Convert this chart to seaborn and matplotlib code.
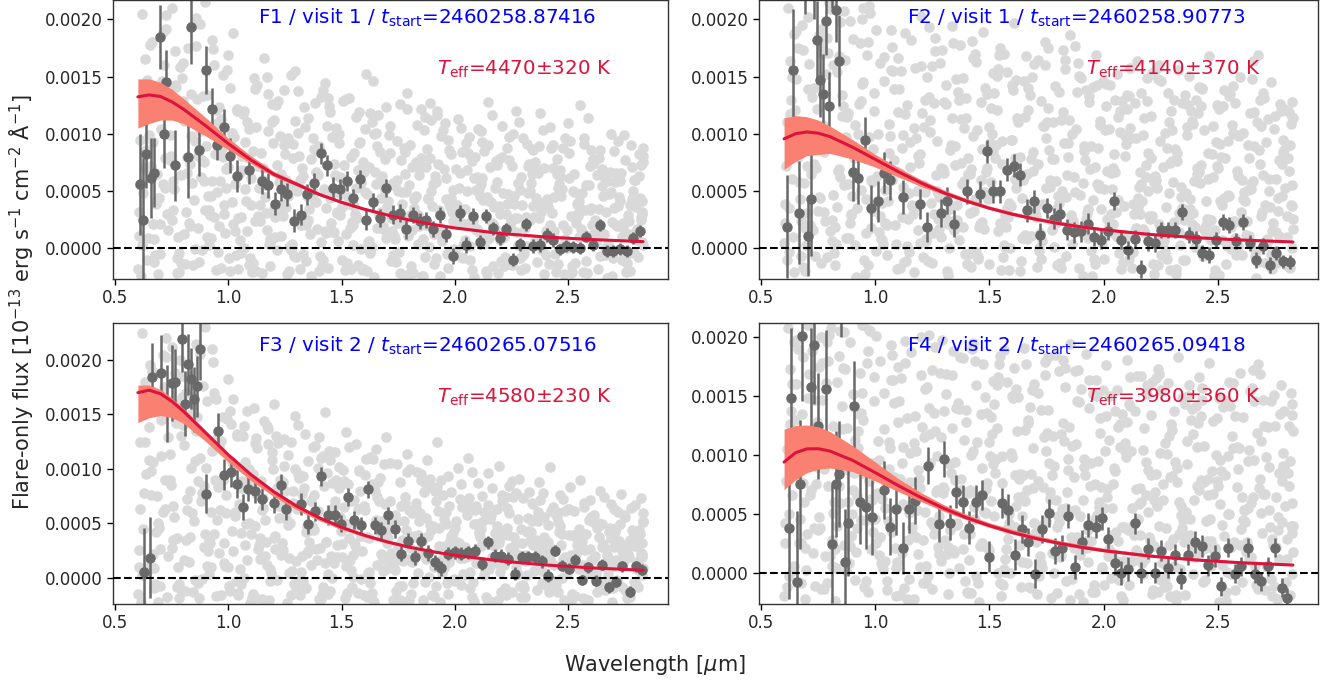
import numpy as np
import seaborn as sns
import matplotlib.pyplot as plt
from matplotlib.ticker import FormatStrFormatter

# fluxes below are in units of 1e-4 (x 10^-13 erg/s/cm2/A)
SCALE = 1e-4

# ---- model grid (wavelength, micron) ----
model_wl = [0.6, 0.65, 0.7, 0.75, 0.8, 0.9, 1.0, 1.1, 1.2, 1.3, 1.4, 1.5, 1.6, 1.7,
            1.8, 1.9, 2.0, 2.2, 2.4, 2.6, 2.83]

# ---- wavelengths of the unbinned spectrum pixels (grey cloud) ----
gray_wl = [
    0.600, 0.645, 0.690, 0.735, 0.780, 0.825, 0.870, 0.915, 0.960, 1.005, 1.050, 1.095, 1.140, 1.185, 1.230, 1.275, 1.320,
    1.365, 1.410, 1.455, 1.500, 1.545, 1.590, 1.635, 1.680, 1.725, 1.770, 1.815, 1.860, 1.905, 1.950, 1.995, 2.040, 2.085,
    2.130, 2.175, 2.220, 2.265, 2.310, 2.355, 2.400, 2.445, 2.490, 2.535, 2.580, 2.625, 2.670, 2.715, 2.760, 2.805,
    0.622, 0.667, 0.712, 0.757, 0.802, 0.847, 0.892, 0.937, 0.982, 1.027, 1.072, 1.117, 1.162, 1.207, 1.252, 1.297, 1.342,
    1.387, 1.432, 1.477, 1.522, 1.567, 1.612, 1.657, 1.702, 1.747, 1.792, 1.837, 1.882, 1.927, 1.972, 2.017, 2.062, 2.107,
    2.152, 2.197, 2.242, 2.287, 2.332, 2.377, 2.422, 2.467, 2.512, 2.557, 2.602, 2.647, 2.692, 2.737, 2.782, 2.827,
    0.611, 0.656, 0.701, 0.746, 0.791, 0.836, 0.881, 0.926, 0.971, 1.016, 1.061, 1.106, 1.151, 1.196, 1.241, 1.286, 1.331,
    1.376, 1.421, 1.466, 1.511, 1.556, 1.601, 1.646, 1.691, 1.736, 1.781, 1.826, 1.871, 1.916, 1.961, 2.006, 2.051, 2.096,
    2.141, 2.186, 2.231, 2.276, 2.321, 2.366, 2.411, 2.456, 2.501, 2.546, 2.591, 2.636, 2.681, 2.726, 2.771, 2.816,
    0.633, 0.678, 0.723, 0.768, 0.813, 0.858, 0.903, 0.948, 0.993, 1.038, 1.083, 1.128, 1.173, 1.218, 1.263, 1.308, 1.353,
    1.398, 1.443, 1.488, 1.533, 1.578, 1.623, 1.668, 1.713, 1.758, 1.803, 1.848, 1.893, 1.938, 1.983, 2.028, 2.073, 2.118,
    2.163, 2.208, 2.253, 2.298, 2.343, 2.388, 2.433, 2.478, 2.523, 2.568, 2.613, 2.658, 2.703, 2.748, 2.793, 2.828,
    0.617, 0.662, 0.707, 0.752, 0.797, 0.842, 0.887, 0.932, 0.977, 1.022, 1.067, 1.112, 1.157, 1.202, 1.247, 1.292, 1.337,
    1.382, 1.427, 1.472, 1.517, 1.562, 1.607, 1.652, 1.697, 1.742, 1.787, 1.832, 1.877, 1.922, 1.967, 2.012, 2.057, 2.102,
    2.147, 2.192, 2.237, 2.282, 2.327, 2.372, 2.417, 2.462, 2.507, 2.552, 2.597, 2.642, 2.687, 2.732, 2.777, 2.822,
    0.639, 0.684, 0.729, 0.774, 0.819, 0.864, 0.909, 0.954, 0.999, 1.044, 1.089, 1.134, 1.179, 1.224, 1.269, 1.314, 1.359,
    1.404, 1.449, 1.494, 1.539, 1.584, 1.629, 1.674, 1.719, 1.764, 1.809, 1.854, 1.899, 1.944, 1.989, 2.034, 2.079, 2.124,
    2.169, 2.214, 2.259, 2.304, 2.349, 2.394, 2.439, 2.484, 2.529, 2.574, 2.619, 2.664, 2.709, 2.754, 2.799, 2.830,
    0.606, 0.651, 0.696, 0.741, 0.786, 0.831, 0.876, 0.921, 0.966, 1.011, 1.056, 1.101, 1.146, 1.191, 1.236, 1.281, 1.326,
    1.371, 1.416, 1.461, 1.506, 1.551, 1.596, 1.641, 1.686, 1.731, 1.776, 1.821, 1.866, 1.911, 1.956, 2.001, 2.046, 2.091,
    2.136, 2.181, 2.226, 2.271, 2.316, 2.361, 2.406, 2.451, 2.496, 2.541, 2.586, 2.631, 2.676, 2.721, 2.766, 2.811,
    0.628, 0.673, 0.718, 0.763, 0.808, 0.853, 0.898, 0.943, 0.988, 1.033, 1.078, 1.123, 1.168, 1.213, 1.258, 1.303, 1.348,
    1.393, 1.438, 1.483, 1.528, 1.573, 1.618, 1.663, 1.708, 1.753, 1.798, 1.843, 1.888, 1.933, 1.978, 2.023, 2.068, 2.113,
    2.158, 2.203, 2.248, 2.293, 2.338, 2.383, 2.428, 2.473, 2.518, 2.563, 2.608, 2.653, 2.698, 2.743, 2.788, 2.825,
    0.614, 0.659, 0.704, 0.749, 0.794, 0.839, 0.884, 0.929, 0.974, 1.019, 1.064, 1.109, 1.154, 1.199, 1.244, 1.289, 1.334,
    1.379, 1.424, 1.469, 1.514, 1.559, 1.604, 1.649, 1.694, 1.739, 1.784, 1.829, 1.874, 1.919, 1.964, 2.009, 2.054, 2.099,
    2.144, 2.189, 2.234, 2.279, 2.324, 2.369, 2.414, 2.459, 2.504, 2.549, 2.594, 2.639, 2.684, 2.729, 2.774, 2.819,
    0.636, 0.681, 0.726, 0.771, 0.816, 0.861, 0.906, 0.951, 0.996, 1.041, 1.086, 1.131, 1.176, 1.221, 1.266, 1.311, 1.356,
    1.401, 1.446, 1.491, 1.536, 1.581, 1.626, 1.671, 1.716, 1.761, 1.806, 1.851, 1.896, 1.941, 1.986, 2.031, 2.076, 2.121,
    2.166, 2.211, 2.256, 2.301, 2.346, 2.391, 2.436, 2.481, 2.526, 2.571, 2.616, 2.661, 2.706, 2.751, 2.796, 2.829,
    0.603, 0.648, 0.693, 0.738, 0.783, 0.828, 0.873, 0.918, 0.963, 1.008, 1.053, 1.098, 1.143, 1.188, 1.233, 1.278, 1.323,
    1.368, 1.413, 1.458, 1.503, 1.548, 1.593, 1.638, 1.683, 1.728, 1.773, 1.818, 1.863, 1.908, 1.953, 1.998, 2.043, 2.088,
    2.133, 2.178, 2.223, 2.268, 2.313, 2.358, 2.403, 2.448, 2.493, 2.538, 2.583, 2.628, 2.673, 2.718, 2.763, 2.808,
    0.625, 0.670, 0.715, 0.760, 0.805, 0.850, 0.895, 0.940, 0.985, 1.030, 1.075, 1.120, 1.165, 1.210, 1.255, 1.300, 1.345,
    1.390, 1.435, 1.480, 1.525, 1.570, 1.615, 1.660, 1.705, 1.750, 1.795, 1.840, 1.885, 1.930, 1.975, 2.020, 2.065, 2.110,
    2.155, 2.200, 2.245, 2.290, 2.335, 2.380, 2.425, 2.470, 2.515, 2.560, 2.605, 2.650, 2.695, 2.740, 2.785, 2.826,
    0.609, 0.654, 0.699, 0.744, 0.789, 0.834, 0.879, 0.924, 0.969, 1.014, 1.059, 1.104, 1.149, 1.194, 1.239, 1.284, 1.329,
    1.374, 1.419, 1.464, 1.509, 1.554, 1.599, 1.644, 1.689, 1.734, 1.779, 1.824, 1.869, 1.914, 1.959, 2.004, 2.049, 2.094,
    2.139, 2.184, 2.229, 2.274, 2.319, 2.364, 2.409, 2.454, 2.499, 2.544, 2.589, 2.634, 2.679, 2.724, 2.769, 2.814,
    0.631, 0.676, 0.721, 0.766, 0.811, 0.856, 0.901, 0.946, 0.991, 1.036, 1.081, 1.126, 1.171, 1.216, 1.261, 1.306, 1.351,
    1.396, 1.441, 1.486, 1.531, 1.576, 1.621, 1.666, 1.711, 1.756, 1.801, 1.846, 1.891, 1.936, 1.981, 2.026, 2.071, 2.116,
    2.161, 2.206, 2.251, 2.296, 2.341, 2.386, 2.431, 2.476, 2.521, 2.566, 2.611, 2.656, 2.701, 2.746, 2.791, 2.824,
    0.620, 0.665, 0.710, 0.755, 0.800, 0.845, 0.890, 0.935, 0.980, 1.025, 1.070, 1.115, 1.160, 1.205, 1.250, 1.295, 1.340,
    1.385, 1.430, 1.475, 1.520, 1.565, 1.610, 1.655, 1.700, 1.745, 1.790, 1.835, 1.880, 1.925, 1.970, 2.015, 2.060, 2.105,
    2.150, 2.195, 2.240, 2.285, 2.330, 2.375, 2.420, 2.465, 2.510, 2.555, 2.600, 2.645, 2.690, 2.735, 2.780, 2.821,
    0.642, 0.687, 0.732, 0.777, 0.822, 0.867, 0.912, 0.957, 1.002, 1.047, 1.092, 1.137, 1.182, 1.227, 1.272, 1.317, 1.362,
    1.407, 1.452, 1.497, 1.542, 1.587, 1.632, 1.677, 1.722, 1.767, 1.812, 1.857, 1.902, 1.947, 1.992, 2.037, 2.082, 2.127,
    2.172, 2.217, 2.262, 2.307, 2.352, 2.397, 2.442, 2.487, 2.532, 2.577, 2.622, 2.667, 2.712, 2.757, 2.802, 2.831,
]

# ================= F1 =================
f1_wl = [0.608, 0.623, 0.636, 0.660, 0.673, 0.699, 0.714, 0.726, 0.765, 0.820, 0.834, 0.872, 0.899, 0.925, 0.951,
         0.981, 1.007, 1.037, 1.091, 1.146, 1.176, 1.205, 1.232, 1.260, 1.290, 1.320, 1.345, 1.376, 1.407, 1.434,
         1.462, 1.494, 1.522, 1.550, 1.580, 1.608, 1.640, 1.668, 1.696, 1.726, 1.756, 1.784, 1.816, 1.844, 1.872,
         1.902, 1.933, 1.960, 1.991, 2.021, 2.050, 2.079, 2.109, 2.137, 2.167, 2.197, 2.225, 2.255, 2.286, 2.315,
         2.345, 2.374, 2.404, 2.432, 2.462, 2.490, 2.522, 2.550, 2.580, 2.610, 2.641, 2.670, 2.699, 2.729, 2.757,
         2.786, 2.817]
f1_flux = [5.57, 2.42, 8.25, 6.15, 6.6, 18.5, 10.0, 14.5, 7.26, 8.0, 19.3, 8.6, 15.6, 12.2, 9.0,
           10.6, 8.1, 6.3, 6.8, 5.86, 5.5, 3.9, 5.13, 4.7, 2.4, 2.94, 4.7, 5.66, 8.3, 7.23,
           5.28, 5.13, 5.86, 4.4, 6.06, 2.5, 4.02, 2.65, 5.28, 2.94, 3.09, 1.63, 2.94, 2.36, 2.5,
           1.69, 2.86, 1.2, -0.7, 3.09, 0.26, 2.8, 0.52, 2.8, 1.72, 0.9, 1.63, -1.0, 0.32, 2.07,
           0.17, 0.26, 1.17, 0.7, -0.1, 0.17, 0.1, 0.03, 1.0, 0.26, 2.04, -0.26, -0.26, -0.06, -0.26,
           0.9, 1.49]
f1_err = [4.4, 5.5, 3.0, 3.5, 3.0, 2.8, 3.0, 2.8, 3.1, 3.6, 3.2, 2.3, 2.1, 1.8, 1.3,
          1.6, 1.5, 1.4, 1.2, 1.1, 1.1, 1.0, 1.0, 1.0, 1.0, 0.9, 0.9, 0.9, 0.9, 0.9,
          0.9, 0.9, 0.9, 0.8, 0.8, 0.9, 0.8, 0.8, 0.8, 0.8, 0.8, 0.8, 0.7, 0.7, 0.7,
          0.7, 0.7, 0.7, 0.7, 0.7, 0.7, 0.7, 0.6, 0.6, 0.6, 0.6, 0.6, 0.6, 0.6, 0.6,
          0.6, 0.6, 0.6, 0.6, 0.5, 0.5, 0.5, 0.5, 0.5, 0.5, 0.5, 0.5, 0.5, 0.5, 0.5,
          0.5, 0.5]
f1_model = [13.23, 13.4, 13.26, 12.8, 12.17, 10.69, 9.13, 7.7, 6.46, 5.6, 4.7, 4.0, 3.4, 2.9, 2.45, 2.08, 1.76,
            1.28, 0.975, 0.753, 0.57]
f1_hi = [14.8, 14.8, 14.5, 13.9, 13.1, 11.4, 9.6, 8.05, 6.72, 5.8, 4.88, 4.15, 3.55, 3.05, 2.6, 2.22, 1.9,
         1.44, 1.1, 0.85, 0.66]
f1_lo = [10.5, 10.9, 11.2, 11.2, 10.9, 9.8, 8.6, 7.4, 6.25, 5.45, 4.6, 3.9, 3.32, 2.83, 2.38, 2.02, 1.71,
         1.27, 0.96, 0.74, 0.56]
f1_gray = [
    -1.8, 0.9, -2.3, 1.6, -0.4, 2.2, -1.2, 0.3, 1.9, -2.0, 0.7, -0.9, 2.4, -1.6, 1.1, -0.2, 2.0, -2.4, 0.5, 1.4, -1.0,
    2.3, -1.9, 0.1, 1.7, -0.6, 2.5, -2.2, 0.8, -1.4, 1.3, -0.1, 2.1, -2.5, 0.4, 1.8, -0.8, 2.6, -1.7, 0.6, 1.5, -2.1,
    0.2, 2.2, -1.1, 1.0, -2.6, 1.9, -0.5, 0.7,
    4.8, 2.1, 5.6, 3.3, 1.2, 4.2, 5.9, 2.7, 3.8, 1.5, 5.2, 2.4, 4.5, 1.0, 3.6, 5.5, 2.0, 4.0, 1.3, 3.1, 5.8, 2.6, 4.7,
    1.8, 3.4, 5.0, 1.1, 2.9, 4.4, 1.6, 3.9, 5.3, 2.2, 1.4, 4.1, 3.0, 1.9, 5.1, 2.5, 3.7, 1.2, 4.6, 2.8, 1.7, 3.5, 5.4,
    2.3, 1.0, 4.3, 3.2,
    9.5, 7.2, 10.4, 8.1, 6.4, 9.8, 7.7, 5.9, 8.8, 10.1, 6.8, 8.5, 7.0, 9.2, 5.6, 7.9, 6.3, 8.7, 5.2, 7.4, 6.0, 8.3,
    4.9, 6.7, 7.8, 5.4, 6.5, 4.6, 7.1, 5.8, 4.3, 6.9, 5.0, 6.2, 4.5, 7.3, 3.9, 5.7, 4.8, 6.6, 3.6, 5.3, 6.1, 4.1, 5.5,
    3.4, 4.7, 5.9, 3.8, 4.4,
    16.5, 12.8, 19.2, 14.1, 11.5, 17.7, 13.4, 10.9, 15.6, 12.2, 11.0, 14.3, 10.2, 12.9, 9.6, 13.7, 11.4, 8.9, 12.4,
    10.0, 13.1, 9.2, 11.8, 8.4, 10.7, 12.6, 9.0, 7.9, 11.2, 9.8, 8.2, 10.5, 7.6, 9.3, 11.6, 8.0, 7.2, 9.6, 8.6, 10.3,
    7.0, 8.8, 6.5, 9.1, 7.5, 6.2, 8.5, 7.7, 6.0, 8.1,
    20.5, 18.0, 14.6, 21.0, 16.2, 19.5, 13.3, 17.4, 15.1, 18.8, 12.0, 14.9, 16.6, 11.2, 13.8, 15.5, 10.6, 12.7, 14.4,
    9.9, 13.0, 11.5, 15.2, 10.1, 12.3, 9.4, 13.6, 10.8, 8.7, 12.0, 9.5, 11.3, 8.3, 10.4, 12.8, 7.8, 9.7, 11.0, 7.4,
    8.9, 10.6, 6.8, 9.4, 12.5, 7.2, 8.6, 10.0, 6.6, 9.0, 7.3,
    -1.0, 6.5, 3.0, -2.2, 8.0, 1.8, 4.6, -0.3, 7.1, 2.6, -1.5, 5.3, 0.4, 3.5, -2.0, 6.0, 1.2, -0.7, 4.4, 2.9, -1.8,
    5.7, 0.0, 3.2, -1.1, 4.9, 1.6, -2.4, 3.7, 0.6, 5.1, -0.9, 2.4, 4.2, -1.6, 1.0, 3.9, -0.4, 2.7, -2.3, 4.5, 0.8,
    -1.3, 3.3, 1.5, -0.6, 2.0, -2.1, 3.6, 0.3,
    3.2, 12.4, -0.5, 7.7, 15.8, 1.9, 10.2, 4.6, -1.7, 8.9, 2.7, 6.1, -2.2, 11.0, 3.9, 0.4, 7.0, 9.6, -1.0, 4.8, 12.9,
    2.0, 6.7, -2.5, 5.4, 1.1, 8.8, 3.5, -0.8, 6.3, 10.9, 2.4, 0.7, 5.1, -2.0, 7.6, 3.0, 1.4, 9.1, -1.2, 4.3, 6.5, 0.0,
    2.8, 11.4, -1.8, 5.9, 3.7, 1.2, 8.2,
    13.6, 0.8, 5.3, 17.2, -1.4, 9.4, 3.3, 12.1, 6.9, -0.6, 4.1, 10.6, 1.6, 7.3, -2.3, 5.0, 2.3, 8.5, 13.1, 0.6, 4.5,
    -1.5, 7.1, 2.9, 9.9, -0.3, 5.5, 1.9, 7.9, -2.4, 3.6, 6.6, 0.2, 10.2, 4.0, -1.1, 2.5, 6.2, 8.7, -0.2, 3.1, 5.2,
    -2.1, 1.3, 7.4, 4.6, -0.9, 2.2, 6.0, 0.5,
    -2.4, 6.9, 11.8, 2.5, 14.9, 5.7, -0.2, 18.2, 8.0, 2.1, 11.7, -1.3, 6.0, 3.4, 9.0, -0.7, 12.3, 4.2, 1.5, 6.4, -1.9,
    3.0, 10.4, 5.6, 0.9, -1.2, 4.9, 7.5, 2.0, 11.6, -0.5, 3.8, 6.8, 1.7, 9.0, -2.2, 4.7, 0.3, 7.2, 2.6, -1.4, 5.6, 8.3,
    1.0, 3.3, -0.7, 6.7, 4.1, -2.0, 2.7,
    8.6, 3.9, 20.4, -0.9, 6.6, 13.0, 1.0, 4.9, 16.9, -1.8, 7.9, 2.8, 13.5, 5.8, 0.1, 8.1, 3.4, -2.0, 11.9, 6.2, 1.8,
    9.3, -0.4, 4.4, 2.6, 7.7, -1.6, 12.2, 5.0, 0.8, 3.2, 8.4, -1.9, 6.1, 2.1, 4.8, 10.0, -0.6, 3.7, 7.0, 1.5, -2.3,
    4.9, 9.6, 2.5, 0.0, 5.8, -1.1, 3.9, 7.5,
    1.1, 9.9, 4.4, 13.7, -2.1, 7.4, 19.6, 2.9, 5.9, 14.0, -0.4, 3.8, 8.3, 0.6, 6.5, 15.1, 2.2, 5.0, -1.6, 9.7, 3.6,
    0.3, 7.5, 14.6, 1.9, 5.7, -2.5, 4.3, 10.3, 1.2, 6.9, -0.2, 3.4, 8.0, 0.9, 5.3, -1.5, 12.0, 2.7, 4.4, -0.6, 7.8,
    1.6, 3.9, -2.2, 6.4, 0.4, 9.4, 2.9, -0.8,
    7.0, -1.2, 16.0, 5.2, 11.1, -0.1, 21.5, 8.2, 1.3, 5.6, 9.3, -2.0, 3.1, 12.5, 6.0, -0.8, 4.6, 1.7, 10.7, 3.2, -1.3,
    6.8, 0.5, 11.6, 4.1, 2.2, -2.3, 6.4, 0.1, 3.3, 8.6, 2.2, -1.0, 4.6, 7.1, 0.7, 2.3, -1.9, 5.7, 3.2, 8.8, 0.2, -1.6,
    4.8, 2.0, 6.9, -2.4, 1.8, 5.0, 3.0,
    5.5, 17.8, 2.1, 9.9, -1.3, 13.5, 6.2, 0.9, 11.3, 4.0, 8.1, -2.1, 6.0, 12.6, 2.8, 9.1, -0.5, 4.9, 13.8, 1.4, 7.3,
    3.7, -1.8, 10.0, 5.1, 0.8, 8.4, 2.7, 11.5, -0.9, 6.1, 3.3, 9.2, 1.6, -2.3, 5.8, 8.8, 2.6, 0.2, 6.9, 4.2, -1.4,
    10.9, 3.1, 1.1, 7.9, -0.3, 4.5, 2.4, 6.3,
    11.2, -0.6, 7.9, 14.3, 3.2, 20.1, 8.9, -1.9, 5.3, 12.0, 1.5, 7.2, 15.0, -0.2, 4.6, 10.1, 2.5, 6.4, -1.7, 9.2, 3.9,
    11.9, 0.6, 5.8, 8.3, -2.2, 2.9, 7.0, 12.7, 1.8, 4.4, -0.8, 8.0, 5.6, 2.2, 10.7, -1.5, 3.8, 6.5, 0.7, 9.0, 2.0,
    5.0, -2.1, 7.8, 1.2, 3.5, 9.9, -0.4, 4.1,
    0.3, 9.3, 18.9, 5.9, 12.9, -1.5, 7.5, 16.0, 3.0, 9.7, 0.0, 13.9, 5.5, 2.7, 8.2, 11.1, -1.1, 6.7, 3.5, 10.5, 1.2,
    5.3, -2.0, 8.9, 3.6, 6.0, 12.2, 0.4, 4.3, 7.4, -1.7, 2.6, 9.7, 5.2, 0.9, 3.7, 7.7, -0.9, 5.0, 11.8, 2.0, 6.2,
    -2.2, 3.4, 8.6, 1.4, 4.9, -1.0, 7.1, 2.5,
    14.7, 4.4, 11.7, 1.0, 17.5, 8.1, 3.3, 12.3, -0.9, 6.5, 10.4, 3.8, 0.8, 9.8, 5.4, -1.8, 7.8, 13.2, 2.2, 4.7, 8.0,
    -0.1, 11.0, 6.3, 1.5, 3.9, 7.1, -2.4, 5.6, 10.3, 2.4, 0.3, 6.1, 8.5, 3.6, -1.6, 4.6, 1.8, 7.5, 4.0, -0.5, 9.6,
    2.8, 5.5, 0.5, 3.2, 6.6, -1.3, 1.7, 8.8,
]

# ================= F2 =================
f2_wl = [0.615, 0.638, 0.664, 0.690, 0.705, 0.717, 0.730, 0.744, 0.759, 0.771, 0.785, 0.797, 0.810, 0.826, 0.839,
         0.900, 0.926, 0.955, 0.983, 1.010, 1.038, 1.066, 1.120, 1.197, 1.227, 1.286, 1.315, 1.344, 1.403, 1.459,
         1.488, 1.517, 1.547, 1.578, 1.607, 1.635, 1.664, 1.695, 1.723, 1.752, 1.781, 1.811, 1.840, 1.872, 1.901,
         1.930, 1.959, 1.989, 2.018, 2.047, 2.077, 2.106, 2.137, 2.165, 2.196, 2.225, 2.253, 2.284, 2.313, 2.343,
         2.373, 2.404, 2.433, 2.462, 2.492, 2.522, 2.551, 2.582, 2.611, 2.641, 2.670, 2.700, 2.729, 2.758, 2.788,
         2.817]
f2_flux = [1.87, 15.6, 3.1, 24.5, 1.05, 4.3, 24.0, 18.2, 14.7, 13.5, 19.9, 12.4, 25.0, 20.8, 16.4,
           6.67, 6.15, 9.5, 3.53, 4.1, 6.6, 5.95, 4.5, 3.9, 1.87, 3.1, 4.17, 2.16, 4.98, 4.78,
           8.48, 4.98, 4.98, 6.88, 7.23, 6.44, 3.32, 4.11, 1.17, 3.53, 2.6, 3.03, 1.63, 1.4, 1.49,
           2.16, 1.0, 0.76, 1.49, 4.11, 0.76, -0.12, 0.82, -1.8, 0.61, 0.47, 1.63, 1.63, 1.63, 3.15,
           1.2, 0.82, -0.4, -0.55, 0.76, 2.27, 2.07, 0.61, 2.27, 0.47, -1.05, 0.17, -1.43, -0.4, -1.14,
           -1.22]
f2_err = [4.5, 5.3, 4.5, 4.0, 3.5, 5.0, 4.0, 3.4, 3.2, 3.5, 3.0, 3.0, 4.0, 2.8, 4.0,
          2.5, 2.3, 2.0, 2.0, 1.8, 1.8, 1.7, 1.5, 1.3, 1.3, 1.2, 1.2, 1.2, 1.1, 1.1,
          1.0, 1.0, 1.0, 1.0, 1.0, 1.0, 1.0, 1.0, 1.0, 0.9, 0.9, 0.9, 0.9, 0.9, 0.9,
          0.9, 0.8, 0.8, 0.8, 0.8, 0.8, 0.8, 0.8, 0.8, 0.8, 0.8, 0.7, 0.7, 0.7, 0.7,
          0.7, 0.7, 0.7, 0.7, 0.7, 0.7, 0.7, 0.7, 0.7, 0.7, 0.7, 0.7, 0.7, 0.6, 0.6,
          0.6]
f2_model = [9.57, 10.01, 10.17, 10.06, 9.77, 8.84, 7.77, 6.7, 5.72, 4.85, 4.12, 3.5, 2.98, 2.55, 2.18, 1.88, 1.62,
            1.22, 0.939, 0.73, 0.556]
f2_hi = [11.4, 11.6, 11.5, 11.2, 10.7, 9.5, 8.2, 7.05, 6.0, 5.1, 4.35, 3.7, 3.18, 2.75, 2.38, 2.06, 1.78,
         1.36, 1.05, 0.83, 0.64]
f2_lo = [6.9, 7.6, 8.1, 8.2, 8.3, 7.8, 7.1, 6.25, 5.4, 4.7, 4.0, 3.4, 2.88, 2.45, 2.08, 1.78, 1.53,
         1.14, 0.87, 0.67, 0.51]
f2_gray = [
    0.5, -2.1, 1.8, -0.7, 2.4, -1.5, 0.9, -2.5, 1.3, -0.2, 2.0, -1.8, 0.2, 1.6, -1.1, 2.6, -2.3, 0.7, -0.5, 1.9, -1.4,
    2.2, 0.0, -2.0, 1.1, -0.9, 2.5, -1.7, 0.4, 1.4, -2.4, 0.9, 2.1, -1.2, -0.3, 1.7, -2.2, 0.6, 2.3, -1.0, 0.1, 1.5,
    -1.9, 2.0, -0.6, 1.2, -2.6, 0.8, -1.3, 1.0,
    3.5, 5.8, 2.0, 4.4, 1.5, 6.2, 3.0, 5.1, 1.8, 4.0, 6.0, 2.7, 3.8, 5.5, 1.3, 4.7, 2.4, 5.9, 3.3, 1.7, 4.9, 2.9, 6.1,
    1.2, 3.9, 5.3, 2.2, 4.5, 1.6, 3.1, 5.6, 2.6, 4.2, 1.1, 3.6, 5.0, 2.1, 4.8, 1.4, 3.4, 5.7, 2.5, 4.1, 1.9, 3.2, 5.2,
    2.8, 1.5, 4.6, 3.7,
    11.0, 8.6, 7.2, 10.5, 9.1, 6.8, 11.8, 8.0, 9.7, 7.5, 10.9, 6.6, 9.3, 8.2, 10.2, 7.0, 9.0, 11.3, 6.9, 8.7, 10.0,
    7.4, 9.5, 6.4, 8.4, 10.7, 7.8, 9.2, 6.2, 8.9, 7.1, 10.3, 6.7, 8.1, 9.6, 7.3, 6.0, 8.8, 7.6, 9.9, 6.5, 8.3, 7.0,
    9.4, 6.3, 7.9, 8.6, 6.1, 7.7, 9.0,
    15.0, 19.5, 13.2, 17.6, 16.0, 12.4, 18.3, 14.5, 12.0, 16.7, 13.9, 11.7, 15.8, 13.0, 17.2, 12.6, 14.8, 11.4, 16.3,
    13.5, 12.1, 15.4, 11.0, 14.0, 16.5, 12.3, 13.7, 11.2, 15.1, 12.8, 10.8, 14.3, 12.0, 10.5, 13.6, 11.6, 14.6, 10.3,
    12.7, 11.1, 13.9, 10.7, 12.4, 14.2, 10.1, 11.9, 13.1, 10.4, 12.2, 11.5,
    21.0, 17.5, 20.2, 18.6, 21.4, 16.8, 19.9, 17.9, 20.6, 16.2, 19.1, 15.5, 18.2, 20.3, 15.9, 17.3, 19.4, 14.9, 16.6,
    18.9, 15.3, 17.0, 19.7, 14.6, 16.1, 18.0, 14.2, 15.7, 17.7, 13.8, 16.9, 14.4, 15.2, 13.4, 16.4, 12.9, 14.8, 13.6,
    15.6, 12.5, 14.1, 16.8, 12.2, 13.3, 15.0, 11.8, 13.0, 14.5, 12.0, 10.9,
    1.0, -1.6, 7.4, 3.2, -0.4, 5.5, 0.3, -2.2, 4.0, 2.2, 6.8, -1.1, 3.7, 0.8, 5.0, -2.0, 2.5, 7.9, -0.8, 4.3, 1.5,
    -1.9, 6.3, 3.0, 0.0, 5.4, -1.3, 2.0, 4.7, -0.2, 3.4, 6.6, 1.2, -1.7, 4.1, 2.8, 0.5, 5.8, -1.0, 3.1, 1.7, -2.4,
    4.4, 0.9, 2.3, -0.7, 3.8, 1.4, -1.5, 2.6,
    2.2, 14.8, 0.3, 9.2, 18.4, 3.6, 11.5, 6.2, -1.5, 10.0, 4.1, 16.6, -0.3, 7.5, 13.2, 1.7, 8.6, 17.8, 3.1, 6.0, 12.3,
    -1.9, 9.5, 4.4, 15.0, 0.6, 7.8, 11.9, 2.4, 5.7, 14.1, -0.9, 8.2, 3.7, 12.7, 1.3, 6.3, 10.1, -2.2, 4.8, 13.0, 2.0,
    7.2, 0.2, 9.9, 5.1, -1.2, 11.3, 3.3, 6.8,
    11.7, -0.7, 6.5, 19.2, 2.5, 13.4, 4.6, 20.0, 8.7, 0.4, 15.5, 5.4, -2.1, 10.6, 3.0, 12.8, 7.3, -0.5, 17.0, 4.7, 9.0,
    1.9, 14.7, 6.5, -1.6, 11.0, 3.5, 8.0, 16.2, 0.9, 5.5, 10.4, -0.4, 13.3, 6.7, 2.6, 9.4, -1.9, 4.5, 12.0, 7.3, 0.7,
    3.8, 10.8, -0.6, 5.9, 13.6, 2.2, 8.4, 0.0,
    -1.0, 8.0, 13.9, 3.3, 17.1, 6.9, 0.9, 12.6, 21.2, 2.8, 9.8, -1.7, 7.1, 15.9, 4.0, 1.0, 11.4, 5.6, 18.1, 2.3, 8.5,
    -0.8, 13.8, 6.0, 3.9, 10.7, 0.1, 16.5, 4.9, 7.7, -1.4, 12.4, 3.2, 9.1, 1.8, 14.9, 5.3, -0.9, 8.3, 2.9, 11.8, 6.1,
    -2.3, 4.6, 9.8, 1.1, 7.4, 3.6, 12.6, -1.7,
    6.1, 17.3, 1.6, 10.8, 4.7, 20.7, 7.9, -1.0, 13.6, 5.1, 2.0, 18.8, 9.6, 0.6, 6.4, 14.3, 3.8, -1.4, 10.3, 7.0, 15.7,
    2.7, 5.9, 12.1, -0.2, 8.6, 4.0, 18.6, 1.4, 6.9, 11.1, 3.0, -1.8, 9.6, 5.6, 15.3, 0.8, 7.6, 3.5, 10.9, -0.7, 6.2,
    13.8, 2.4, 4.9, 8.9, -1.3, 11.6, 5.3, 1.7,
    3.9, 12.1, -2.0, 7.0, 15.2, 0.4, 9.7, 3.5, 16.9, 6.3, -0.6, 11.9, 2.6, 8.1, 19.3, 4.5, 0.0, 13.0, 6.5, 2.1, 9.2,
    17.5, 3.7, -1.1, 7.8, 12.9, 1.6, 5.0, 10.0, -2.4, 4.2, 14.6, 7.0, 0.9, 3.0, 11.4, 5.8, -0.3, 8.7, 13.4, 1.9, 4.1,
    9.3, -1.4, 6.8, 2.4, 11.0, 0.5, 4.4, 7.9,
    16.4, 4.3, 10.1, -1.3, 20.9, 8.6, 2.9, 14.4, 5.8, 0.7, 17.6, 9.9, 3.0, -0.8, 12.7, 6.6, 1.6, 10.5, 4.3, 14.0, 7.9,
    0.1, 5.3, 16.8, 2.7, 9.6, -1.5, 6.4, 13.7, 3.4, 8.8, 1.3, 11.5, -0.9, 5.4, 2.8, 16.0, 7.5, 0.3, 4.3, 12.4, 2.5,
    8.0, -0.1, 6.0, 14.8, 3.2, -1.8, 9.5, 5.5,
    7.2, 19.0, 3.1, 12.2, -0.8, 15.4, 5.6, 10.0, 18.0, 1.4, 8.3, 13.9, 4.8, 0.5, 11.2, 16.2, 3.4, 7.5, -1.6, 12.8, 5.8,
    9.4, 14.3, 0.9, 6.8, 3.9, 11.0, 17.3, 2.0, 8.5, -0.9, 5.2, 13.0, 9.8, 1.5, 6.2, 15.7, 3.6, -1.8, 10.6, 7.0, 2.6,
    12.5, 4.7, 0.2, 9.0, 16.9, 5.0, 1.1, 11.9,
    13.0, 2.4, 9.6, 17.0, 0.6, 11.6, 6.6, 21.0, 3.3, 14.6, 7.7, -1.2, 10.5, 4.9, 18.4, 2.7, 8.9, 13.1, -0.3, 6.7, 15.1,
    3.5, 11.4, 0.8, 7.4, 17.5, 4.6, 9.2, -1.7, 13.3, 5.3, 1.9, 10.2, 15.8, 3.0, 7.9, -0.6, 12.0, 5.4, 2.1, 14.0, 8.2,
    0.7, 10.1, 4.3, 16.4, 6.4, -1.0, 8.6, 12.8,
    -0.3, 11.0, 16.1, 4.5, 9.1, 19.8, 2.2, 12.9, 6.0, 0.8, 15.6, 8.8, 3.7, 11.8, -1.3, 6.9, 17.9, 1.9, 9.8, 4.9, 13.6,
    0.3, 7.9, 11.5, 3.2, 16.0, 5.9, -0.7, 10.4, 2.6, 14.3, 6.8, 1.0, 12.2, 4.4, 8.3, -1.5, 11.0, 3.1, 15.1, 6.7, 0.9,
    9.1, 13.5, 2.3, 5.6, 10.7, -0.5, 7.4, 3.8,
    18.7, 5.7, 14.0, 8.4, 1.9, 16.5, 10.8, 4.3, 19.1, 7.2, 0.4, 12.5, 5.0, 15.0, 9.4, 2.1, 13.7, 6.5, -0.9, 10.6, 16.9,
    4.0, 8.0, 13.4, 1.3, 6.0, 11.2, 2.9, 14.9, 8.9, 0.5, 5.2, 12.9, 3.9, 9.9, -1.4, 7.1, 13.0, 2.5, 5.9, 10.3, 1.6,
    7.9, 12.7, 4.1, -0.2, 9.3, 6.1, 2.8, 11.4,
]

# ================= F3 =================
f3_wl = [0.626, 0.652, 0.664, 0.704, 0.728, 0.751, 0.765, 0.793, 0.809, 0.820, 0.834, 0.846, 0.861, 0.875, 0.902,
         0.953, 0.981, 1.010, 1.036, 1.063, 1.088, 1.117, 1.146, 1.200, 1.230, 1.256, 1.322, 1.352, 1.384, 1.410,
         1.440, 1.468, 1.497, 1.527, 1.556, 1.585, 1.617, 1.645, 1.675, 1.705, 1.734, 1.763, 1.792, 1.822, 1.851,
         1.880, 1.910, 1.939, 1.969, 1.998, 2.028, 2.057, 2.087, 2.117, 2.146, 2.175, 2.205, 2.234, 2.264, 2.294,
         2.323, 2.353, 2.382, 2.412, 2.441, 2.471, 2.501, 2.530, 2.561, 2.589, 2.620, 2.648, 2.680, 2.709, 2.739,
         2.773, 2.800, 2.827]
f3_flux = [0.55, 1.84, 18.4, 18.8, 16.0, 17.9, 18.0, 21.9, 16.0, 19.6, 18.3, 16.4, 17.6, 21.0, 7.7,
           13.5, 9.46, 9.7, 8.6, 6.45, 8.14, 8.0, 7.2, 6.9, 8.5, 6.3, 6.79, 4.95, 6.08, 9.3,
           5.78, 5.78, 4.95, 7.4, 5.31, 4.8, 8.11, 4.8, 4.33, 5.71, 4.48, 2.18, 3.41, 1.87, 3.41,
           2.27, 1.41, 0.86, 2.18, 2.33, 2.18, 2.33, 2.49, 1.26, 3.26, 2.03, 2.03, 1.72, 0.34, 1.87,
           1.87, 1.87, 1.5, 0.18, 2.49, 1.1, 0.8, 1.66, -0.22, 0.95, -0.28, 1.17, -0.89, -0.37, 1.04,
           -1.29, 1.04, 0.74]
f3_err = [4.0, 3.7, 3.2, 3.5, 3.5, 3.5, 3.0, 3.0, 3.0, 2.8, 2.8, 3.0, 2.8, 2.8, 1.8,
          1.6, 1.4, 1.4, 1.3, 1.2, 1.1, 1.1, 1.0, 1.0, 1.0, 1.0, 1.0, 0.9, 0.9, 0.9,
          0.9, 0.9, 0.8, 0.8, 0.8, 0.8, 0.8, 0.8, 0.8, 0.8, 0.8, 0.7, 0.7, 0.7, 0.7,
          0.7, 0.7, 0.7, 0.6, 0.6, 0.6, 0.6, 0.6, 0.6, 0.6, 0.6, 0.6, 0.6, 0.6, 0.6,
          0.6, 0.6, 0.6, 0.6, 0.5, 0.5, 0.5, 0.5, 0.5, 0.5, 0.5, 0.5, 0.5, 0.5, 0.5,
          0.5, 0.5, 0.5]
f3_model = [17.0, 17.23, 16.9, 16.2, 15.31, 13.29, 11.27, 9.45, 7.89, 6.58, 5.5, 4.62, 3.89, 3.29, 2.79, 2.39, 2.05,
            1.53, 1.16, 0.896, 0.677]
f3_hi = [17.7, 17.7, 17.3, 16.5, 15.6, 13.5, 11.4, 9.6, 8.05, 6.75, 5.65, 4.76, 4.02, 3.4, 2.9, 2.48, 2.13,
         1.6, 1.22, 0.95, 0.72]
f3_lo = [14.25, 14.7, 14.9, 14.7, 14.2, 12.5, 10.6, 8.9, 7.45, 6.25, 5.25, 4.42, 3.73, 3.16, 2.69, 2.3, 1.98,
         1.48, 1.12, 0.86, 0.65]
f3_gray = [
    -1.5, 1.0, -2.2, 2.0, -0.6, 1.4, -1.9, 0.3, 2.3, -1.2, 0.8, -2.3, 1.7, -0.3, 2.1, -1.6, 0.5, 1.2, -2.0, 0.0, 1.9,
    -0.9, 2.4, -1.4, 0.6, -2.1, 1.5, -0.5, 2.2, -1.7, 0.9, -0.1, 1.8, -2.2, 0.2, 1.3, -1.0, 2.0, -1.8, 0.7, 1.6, -0.7,
    -2.3, 1.1, 0.4, -1.3, 2.1, -0.2, -1.9, 0.8,
    4.5, 2.2, 6.0, 3.5, 1.6, 5.2, 2.8, 4.0, 1.3, 5.7, 3.0, 4.7, 2.0, 3.8, 5.4, 1.5, 4.2, 2.6, 3.3, 1.9, 4.9, 2.4, 3.7,
    1.2, 4.4, 2.9, 1.7, 3.9, 2.3, 4.6, 1.4, 3.2, 2.0, 4.1, 1.1, 3.6, 2.7, 1.8, 3.4, 2.5, 1.3, 3.0, 2.1, 3.8, 1.6, 2.8,
    1.0, 2.4, 3.1, 1.9,
    12.5, 9.8, 11.2, 8.5, 13.0, 10.1, 7.8, 11.6, 9.0, 10.6, 8.2, 9.5, 7.3, 10.0, 8.8, 6.9, 9.3, 7.6, 8.4, 6.5, 8.9,
    7.1, 6.2, 8.0, 6.8, 5.8, 7.4, 6.4, 5.5, 7.0, 6.0, 5.2, 6.6, 4.9, 5.7, 6.3, 4.6, 5.4, 4.3, 6.0, 4.8, 5.1, 3.9, 4.5,
    5.3, 3.7, 4.2, 4.9, 3.5, 4.0,
    18.0, 15.5, 20.3, 14.2, 17.0, 13.5, 16.2, 12.8, 14.6, 13.0, 15.3, 11.9, 13.7, 12.4, 11.3, 14.0, 10.7, 12.9, 11.6,
    10.2, 12.0, 9.8, 11.1, 9.2, 10.5, 8.8, 10.0, 9.5, 8.3, 9.0, 7.9, 8.6, 9.7, 7.5, 8.2, 7.0, 8.9, 7.3, 6.8, 7.8, 6.5,
    7.2, 6.1, 6.9, 5.8, 7.4, 6.3, 5.6, 6.7, 5.9,
    22.5, 19.0, 16.8, 21.2, 18.5, 15.9, 17.6, 19.8, 14.8, 16.4, 13.9, 15.6, 14.4, 16.0, 12.7, 14.9, 13.2, 12.1, 15.2,
    11.5, 13.4, 12.3, 10.9, 11.8, 12.9, 10.4, 11.4, 9.7, 10.8, 12.5, 9.3, 10.1, 11.0, 8.7, 9.6, 10.3, 8.4, 9.1, 7.9,
    8.8, 10.2, 7.6, 8.3, 9.0, 7.1, 8.0, 6.8, 7.7, 6.4, 7.3,
    0.5, 7.5, -1.8, 3.6, 6.2, -0.5, 2.4, 8.3, 1.0, -1.4, 5.0, 3.0, -2.1, 6.6, 1.8, -0.2, 4.4, 2.7, -1.2, 5.6, 0.7,
    3.8, -1.9, 2.2, 4.8, -0.8, 1.4, 3.4, -1.6, 0.4, 4.1, 2.0, -0.4, 3.1, -2.2, 1.2, 2.9, -1.0, 0.6, 3.7, -0.3, 1.9,
    -1.7, 2.5, 0.1, -1.1, 1.6, 2.8, -0.6, 0.9,
    2.5, 13.8, -0.8, 9.0, 20.0, 3.7, 11.0, 6.0, -1.6, 14.1, 4.1, 8.4, -2.0, 11.5, 3.2, 0.6, 7.7, 12.0, -0.9, 5.6, 9.9,
    2.1, 6.6, -2.2, 10.4, 1.3, 5.2, 3.8, -0.4, 8.0, 2.9, 4.6, 0.2, 6.6, -1.8, 3.5, 7.4, 1.0, 4.2, -1.1, 2.4, 6.0, 0.4,
    3.7, -2.1, 5.0, 1.8, -0.6, 3.0, 4.4,
    15.1, 0.9, 6.3, 18.8, -1.2, 10.7, 4.0, 16.4, 7.6, -0.3, 4.9, 12.8, 1.2, 8.2, -2.3, 6.3, 2.3, 10.1, 0.3, 5.0, 8.6,
    -1.4, 3.6, 7.0, 1.6, -0.8, 6.2, 2.5, 4.8, -2.2, 3.4, 7.2, 0.5, 2.9, 5.8, -1.3, 1.9, 4.5, 6.9, -0.5, 2.6, 4.0, -2.0,
    1.2, 5.3, 3.1, -1.0, 2.0, 4.3, 0.2,
    -2.2, 7.6, 14.5, 2.7, 16.6, 5.9, -0.1, 21.0, 9.0, 2.4, 13.0, -1.5, 6.4, 3.6, 10.3, -0.6, 8.2, 4.4, 1.3, 7.0, -1.9,
    3.0, 9.4, 5.3, 0.8, -1.2, 4.4, 6.9, 1.7, 8.3, -0.5, 3.3, 5.8, 1.5, 6.7, -2.1, 3.9, 0.3, 5.5, 2.4, -1.3, 4.2, 6.3,
    0.8, 2.6, -0.9, 4.6, 3.2, -1.8, 2.3,
    9.5, 4.2, 22.0, -0.9, 7.2, 14.8, 1.1, 5.3, 18.3, -1.6, 8.9, 2.6, 12.3, 5.5, 0.4, 9.2, 3.3, -2.0, 10.8, 5.4, 1.6,
    8.0, -0.5, 4.0, 2.3, 6.6, -1.5, 9.0, 4.4, 0.6, 2.8, 6.5, -1.8, 5.1, 1.9, 4.0, 7.4, -0.7, 3.0, 5.6, 1.2, -2.1, 3.8,
    6.5, 2.0, -0.3, 4.2, -1.1, 2.9, 5.1,
    1.0, 10.8, 4.6, 15.6, -1.9, 8.0, 20.6, 3.2, 6.2, 15.3, -0.6, 4.0, 8.9, 0.4, 6.7, 12.5, 2.0, 4.7, -1.5, 8.7, 3.1,
    0.1, 6.4, 10.9, 1.7, 4.6, -2.2, 3.7, 7.9, 1.0, 5.4, -0.3, 2.8, 6.2, 0.7, 4.1, -1.6, 7.8, 2.1, 3.5, -0.7, 5.6, 1.2,
    3.0, -2.1, 4.6, 0.2, 6.0, 2.2, -0.9,
    7.8, -1.0, 17.5, 5.6, 12.2, -0.2, 23.0, 9.0, 1.1, 6.0, 10.6, -1.9, 3.3, 13.0, 6.1, -0.9, 4.7, 1.6, 9.6, 3.0, -1.4,
    6.3, 0.4, 8.8, 3.6, 2.0, -2.1, 5.2, 0.1, 2.9, 6.6, 1.8, -1.0, 3.7, 5.4, 0.5, 2.0, -1.8, 4.2, 2.6, 6.1, 0.0, -1.5,
    3.4, 1.6, 4.9, -2.2, 1.3, 3.6, 2.2,
    6.3, 19.5, 2.6, 11.4, -1.1, 15.0, 7.0, 1.0, 12.6, 4.3, 8.9, -1.9, 6.2, 10.8, 2.5, 8.0, -0.4, 4.6, 11.2, 1.3, 6.5,
    3.2, -1.6, 8.4, 4.3, 0.7, 6.9, 2.4, 8.7, -0.8, 4.9, 2.9, 6.8, 1.3, -2.0, 4.7, 6.4, 2.2, 0.2, 5.2, 3.3, -1.3, 6.3,
    2.5, 0.9, 4.8, -0.3, 3.4, 1.9, 4.1,
    12.5, -0.6, 9.0, 16.0, 3.5, 21.5, 10.1, -1.7, 5.9, 13.2, 1.6, 7.6, 13.9, -0.2, 4.8, 9.5, 2.4, 6.1, -1.5, 8.2, 3.6,
    9.9, 0.5, 5.1, 7.0, -2.1, 2.7, 5.9, 9.1, 1.6, 3.8, -0.7, 6.3, 4.5, 1.9, 7.6, -1.3, 3.2, 5.2, 0.6, 6.0, 1.7, 3.9,
    -1.9, 5.1, 1.0, 2.8, 5.8, -0.4, 3.2,
    0.2, 10.6, 20.5, 6.6, 14.0, -1.3, 8.4, 17.0, 3.2, 10.2, 0.0, 12.4, 5.3, 2.6, 8.0, 10.0, -1.0, 6.0, 3.3, 9.0, 1.1,
    4.8, -1.8, 7.4, 3.2, 5.2, 9.7, 0.4, 3.8, 6.1, -1.5, 2.3, 7.3, 4.2, 0.8, 3.2, 5.9, -0.8, 4.0, 7.1, 1.7, 4.7, -1.9,
    2.8, 5.6, 1.2, 3.6, -0.9, 4.4, 2.0,
    16.0, 5.0, 12.9, 1.0, 18.5, 8.9, 3.5, 12.0, -0.8, 6.8, 10.0, 3.6, 0.8, 9.0, 5.0, -1.6, 7.0, 11.0, 2.0, 4.3, 7.0,
    -0.1, 8.6, 5.2, 1.3, 3.5, 5.9, -2.1, 4.7, 7.6, 2.1, 0.3, 4.9, 6.0, 2.9, -1.4, 3.7, 1.5, 5.4, 3.1, -0.5, 6.1, 2.2,
    4.0, 0.4, 2.6, 4.6, -1.2, 1.4, 5.2,
]

# ================= F4 =================
f4_wl = [0.621, 0.632, 0.657, 0.669, 0.680, 0.720, 0.731, 0.749, 0.785, 0.811, 0.826, 0.840, 0.850, 0.865, 0.880,
         0.906, 0.931, 0.957, 0.985, 1.037, 1.065, 1.091, 1.120, 1.149, 1.174, 1.232, 1.280, 1.299, 1.327, 1.353,
         1.383, 1.410, 1.439, 1.468, 1.498, 1.554, 1.583, 1.613, 1.642, 1.671, 1.701, 1.730, 1.759, 1.789, 1.818,
         1.845, 1.877, 1.906, 1.933, 1.965, 1.994, 2.021, 2.050, 2.078, 2.109, 2.137, 2.166, 2.195, 2.225, 2.254,
         2.283, 2.313, 2.340, 2.372, 2.399, 2.430, 2.459, 2.487, 2.516, 2.546, 2.575, 2.604, 2.634, 2.663, 2.692,
         2.722, 2.751, 2.780, 2.805]
f4_flux = [3.78, 14.8, -0.77, 7.5, 20.1, 15.8, 19.3, 12.5, 15.6, 2.48, 7.5, 8.4, 24.0, 0.94, 4.27,
           14.2, 5.97, 5.55, 4.7, 7.03, 3.93, 5.4, 2.13, 5.4, 6.12, 9.1, 4.18, 9.67, 4.27, 6.88,
           6.03, 3.84, 6.03, 6.6, 1.37, 5.92, 5.35, 1.54, 3.7, 2.62, -0.06, 3.7, 5.06, 1.85, 2.13,
           4.84, 0.51, 2.62, 4.04, 3.93, 4.61, 2.9, 0.8, 0.0, 0.34, 4.21, 0.0, 2.05, 0.0, 1.88,
           0.43, 1.54, -0.51, 1.54, 2.62, 2.28, 0.63, 1.42, -1.14, 2.13, -0.06, 0.57, 2.13, -0.06, -0.71,
           0.57, 2.13, -1.28, -2.13]
f4_err = [6.0, 6.0, 6.0, 5.5, 5.5, 5.0, 5.0, 4.5, 5.0, 5.0, 4.5, 4.5, 4.0, 4.5, 4.5,
          3.8, 3.5, 3.5, 3.2, 2.5, 2.4, 2.2, 2.2, 2.0, 2.0, 1.6, 1.6, 1.5, 1.5, 1.4,
          1.4, 1.4, 1.4, 1.3, 1.3, 1.3, 1.3, 1.3, 1.2, 1.2, 1.2, 1.2, 1.2, 1.1, 1.1,
          1.0, 1.0, 1.0, 1.0, 1.0, 1.0, 1.0, 1.0, 1.0, 1.0, 0.9, 0.9, 0.9, 0.9, 0.9,
          0.9, 0.9, 0.9, 0.9, 0.9, 0.9, 0.9, 0.9, 0.8, 0.8, 0.8, 0.8, 0.8, 0.8, 0.8,
          0.8, 0.8, 0.8, 0.8]
f4_model = [9.4, 10.19, 10.52, 10.53, 10.34, 9.55, 8.5, 7.41, 6.39, 5.47, 4.67, 4.0, 3.42, 2.93, 2.52, 2.18, 1.88,
            1.43, 1.1, 0.858, 0.656]
f4_hi = [12.2, 12.5, 12.55, 12.4, 12.0, 10.8, 9.4, 8.0, 6.8, 5.78, 4.95, 4.25, 3.68, 3.18, 2.76, 2.4, 2.09,
         1.6, 1.24, 0.98, 0.76]
f4_lo = [7.06, 7.9, 8.5, 8.8, 8.9, 8.6, 7.8, 6.9, 6.05, 5.22, 4.5, 3.85, 3.3, 2.82, 2.41, 2.07, 1.78,
         1.34, 1.02, 0.79, 0.6]
f4_gray = [
    -2.0, 0.6, 2.1, -1.1, 1.4, -2.4, 0.2, 1.8, -0.7, 2.5, -1.5, 0.9, -2.2, 1.6, -0.3, 2.2, -1.8, 0.4, 1.1, -2.5, 1.9,
    -0.9, 0.0, 2.4, -1.3, 0.8, -2.1, 1.5, -0.5, 2.0, -1.6, 0.3, 1.7, -2.3, 1.0, -0.1, 2.3, -1.2, 0.6, -1.9, 1.3, -0.6,
    2.1, -2.4, 0.1, 1.8, -1.0, 0.5, -2.2, 1.2,
    5.0, 2.5, 6.6, 3.8, 1.4, 5.9, 3.1, 4.5, 2.0, 6.3, 3.5, 1.7, 5.3, 2.8, 4.1, 6.8, 1.9, 3.3, 5.6, 2.3, 4.8, 1.2, 3.9,
    6.1, 2.6, 4.4, 1.5, 5.5, 3.0, 2.1, 4.9, 6.4, 2.7, 3.6, 1.6, 5.2, 4.0, 2.4, 6.0, 3.2, 1.8, 4.6, 5.8, 2.2, 3.7, 1.3,
    5.1, 2.9, 4.3, 3.4,
    10.5, 8.2, 11.4, 9.0, 7.4, 10.8, 8.7, 12.0, 7.8, 9.6, 11.1, 8.0, 10.2, 7.2, 9.3, 11.5, 8.5, 7.0, 10.0, 8.9, 11.8,
    7.6, 9.8, 8.3, 10.6, 7.3, 9.1, 11.2, 8.1, 9.7, 7.5, 10.3, 8.6, 11.0, 7.1, 9.4, 8.4, 10.1, 7.7, 9.2, 10.7, 8.0, 7.4,
    9.9, 8.8, 10.4, 7.2, 9.0, 8.5, 9.5,
    16.0, 13.5, 18.8, 14.7, 12.5, 17.4, 15.2, 13.0, 16.6, 12.2, 14.4, 17.8, 13.3, 15.6, 12.0, 16.9, 14.0, 12.8, 15.9,
    13.6, 12.3, 16.2, 14.9, 12.7, 15.3, 13.8, 17.1, 12.4, 14.5, 16.4, 13.1, 15.0, 12.6, 14.2, 16.7, 13.4, 15.5, 12.1,
    14.8, 13.9, 15.7, 12.9, 14.1, 16.1, 13.2, 14.6, 12.5, 15.1, 13.7, 14.3,
    20.8, 19.0, 21.0, 17.5, 20.2, 18.4, 19.6, 17.0, 20.5, 18.0, 19.3, 16.5, 18.7, 20.0, 17.2, 19.8, 16.8, 18.2, 19.5,
    17.7, 16.3, 18.9, 17.4, 19.1, 16.0, 17.9, 18.5, 15.8, 17.1, 18.6, 16.4, 17.6, 15.5, 18.1, 16.7, 15.2, 17.3, 16.1,
    18.3, 15.0, 16.6, 17.8, 14.8, 16.2, 17.0, 15.4, 16.9, 14.6, 15.9, 15.3,
    0.2, 7.6, 3.8, -1.4, 6.0, 2.4, -0.6, 8.4, 4.6, 1.0, -2.0, 5.7, 3.0, -0.9, 7.0, 1.6, 4.2, -1.7, 6.5, 2.1, 0.0, 5.0,
    8.0, -1.2, 3.4, 6.9, 1.3, -2.3, 4.8, 2.7, 7.3, -0.4, 3.9, 5.5, 0.8, -1.8, 6.2, 2.9, 4.5, -0.1, 7.7, 1.9, 3.1, -1.5,
    5.3, 0.6, 6.7, 2.2, -0.8, 4.0,
    2.5, 16.0, 0.2, 9.6, 19.6, 4.0, 12.3, 6.5, -1.6, 11.2, 4.4, 17.5, -0.5, 8.0, 14.0, 1.6, 9.2, 18.3, 3.3, 6.6, 13.2,
    -2.0, 10.2, 4.8, 15.5, 0.4, 8.3, 12.7, 2.5, 6.2, 15.2, -1.0, 8.9, 3.9, 13.7, 1.2, 6.9, 11.0, -2.3, 5.2, 14.2, 2.1,
    7.8, 0.1, 10.7, 5.5, -1.4, 12.4, 3.6, 7.4,
    12.6, -0.9, 7.0, 20.0, 2.8, 14.2, 5.0, 21.0, 9.3, 0.3, 16.4, 5.8, -2.2, 11.5, 3.3, 13.7, 7.9, -0.7, 18.0, 5.1, 9.7,
    2.0, 15.6, 7.0, -1.8, 11.9, 3.9, 8.7, 17.2, 0.9, 6.0, 11.3, -0.6, 14.3, 7.2, 2.8, 10.2, -2.0, 4.9, 13.0, 7.9, 0.6,
    4.1, 11.6, -0.8, 6.4, 14.7, 2.4, 9.1, -0.1,
    -1.2, 8.7, 14.8, 3.6, 18.0, 7.4, 0.8, 13.5, 20.6, 3.0, 10.6, -1.9, 7.7, 16.8, 4.3, 1.0, 12.3, 6.1, 19.0, 2.5, 9.2,
    -1.0, 14.8, 6.5, 4.2, 11.5, 0.0, 17.4, 5.3, 8.3, -1.6, 13.3, 3.5, 9.8, 1.9, 15.9, 5.7, -1.1, 8.9, 3.1, 12.7, 6.6,
    -2.5, 5.0, 10.6, 1.2, 8.0, 3.9, 13.5, -1.9,
    6.6, 18.3, 1.7, 11.6, 5.1, 20.4, 8.5, -1.2, 14.6, 5.5, 2.1, 19.7, 10.3, 0.6, 6.9, 15.2, 4.1, -1.6, 11.1, 7.6, 16.6,
    2.9, 6.4, 13.0, -0.3, 9.3, 4.3, 19.4, 1.5, 7.4, 11.9, 3.2, -2.0, 10.3, 6.0, 16.2, 0.8, 8.2, 3.8, 11.8, -0.8, 6.7,
    14.7, 2.6, 5.3, 9.6, -1.5, 12.5, 5.7, 1.8,
    4.2, 13.0, -2.2, 7.5, 16.1, 0.4, 10.4, 3.8, 17.8, 6.8, -0.7, 12.8, 2.8, 8.7, 20.2, 4.8, 0.0, 13.9, 7.0, 2.3, 9.9,
    18.4, 4.0, -1.2, 8.4, 13.8, 1.7, 5.4, 10.8, -2.5, 4.5, 15.5, 7.5, 1.0, 3.2, 12.3, 6.2, -0.4, 9.4, 14.3, 2.0, 4.4,
    10.0, -1.6, 7.3, 2.6, 11.9, 0.5, 4.7, 8.5,
    17.3, 4.6, 10.9, -1.4, 20.8, 9.3, 3.1, 15.3, 6.2, 0.7, 18.5, 10.7, 3.2, -0.9, 13.6, 7.1, 1.7, 11.3, 4.6, 14.9, 8.5,
    0.1, 5.7, 17.7, 2.9, 10.3, -1.7, 6.9, 14.6, 3.6, 9.5, 1.4, 12.4, -1.0, 5.8, 3.0, 16.9, 8.1, 0.3, 4.6, 13.3, 2.7,
    8.6, -0.1, 6.4, 15.7, 3.4, -2.0, 10.2, 5.9,
    7.8, 19.8, 3.3, 12.8, -0.9, 16.2, 6.0, 10.6, 18.8, 1.5, 8.8, 14.6, 5.1, 0.5, 11.8, 17.0, 3.6, 8.0, -1.7, 13.5, 6.1,
    9.9, 15.0, 0.9, 7.2, 4.1, 11.6, 18.1, 2.1, 9.0, -1.0, 5.5, 13.7, 10.3, 1.6, 6.6, 16.5, 3.8, -1.9, 11.2, 7.4, 2.7,
    13.1, 5.0, 0.2, 9.5, 17.7, 5.3, 1.2, 12.5,
    13.7, 2.5, 10.1, 17.8, 0.6, 12.2, 7.0, 21.0, 3.5, 15.3, 8.1, -1.3, 11.0, 5.2, 19.2, 2.8, 9.4, 13.8, -0.3, 7.1, 15.9,
    3.7, 12.0, 0.8, 7.8, 18.3, 4.8, 9.7, -1.8, 14.0, 5.6, 2.0, 10.7, 16.6, 3.2, 8.3, -0.6, 12.6, 5.7, 2.2, 14.7, 8.6,
    0.7, 10.6, 4.5, 17.2, 6.7, -1.1, 9.0, 13.4,
    -0.3, 11.6, 16.9, 4.7, 9.6, 20.5, 2.3, 13.6, 6.3, 0.8, 16.4, 9.3, 3.9, 12.4, -1.4, 7.3, 18.8, 2.0, 10.3, 5.2, 14.3,
    0.3, 8.3, 12.1, 3.4, 16.8, 6.2, -0.7, 10.9, 2.7, 15.0, 7.1, 1.0, 12.8, 4.6, 8.7, -1.6, 11.6, 3.3, 15.9, 7.0, 0.9,
    9.6, 14.2, 2.4, 5.9, 11.2, -0.5, 7.8, 4.0,
    19.6, 6.0, 14.7, 8.8, 2.0, 17.3, 11.3, 4.5, 20.1, 7.6, 0.4, 13.1, 5.3, 15.8, 9.9, 2.2, 14.4, 6.8, -0.9, 11.1, 17.7,
    4.2, 8.4, 14.1, 1.4, 6.3, 11.8, 3.0, 15.6, 9.3, 0.5, 5.5, 13.5, 4.1, 10.4, -1.5, 7.5, 13.7, 2.6, 6.2, 10.8, 1.7,
    8.3, 13.3, 4.3, -0.2, 9.8, 6.4, 2.9, 12.0,
]

titles = [r'F1 / visit 1 / $t_{\rm start}$=2460258.87416',
          r'F2 / visit 1 / $t_{\rm start}$=2460258.90773',
          r'F3 / visit 2 / $t_{\rm start}$=2460265.07516',
          r'F4 / visit 2 / $t_{\rm start}$=2460265.09418']
teff_labels = [r'$T_{\rm eff}$=4470±320 K', r'$T_{\rm eff}$=4140±370 K',
               r'$T_{\rm eff}$=4580±230 K', r'$T_{\rm eff}$=3980±360 K']
ylims = [(-2.7, 21.7), (-2.68, 21.7), (-2.43, 23.4), (-2.65, 21.2)]

sns.set_style('ticks')
plt.rcParams['font.family'] = ['DejaVu Sans']
plt.rcParams['mathtext.fontset'] = 'dejavusans'

fig = plt.figure(figsize=(13.32, 6.85), dpi=100)
rects = [[0.0848, 0.5927, 0.4167, 0.4073], [0.5698, 0.5927, 0.4197, 0.4073],
         [0.0848, 0.1182, 0.4167, 0.4102], [0.5698, 0.1182, 0.4197, 0.4102]]

data = [(f1_wl, f1_flux, f1_err, f1_model, f1_lo, f1_hi, f1_gray),
        (f2_wl, f2_flux, f2_err, f2_model, f2_lo, f2_hi, f2_gray),
        (f3_wl, f3_flux, f3_err, f3_model, f3_lo, f3_hi, f3_gray),
        (f4_wl, f4_flux, f4_err, f4_model, f4_lo, f4_hi, f4_gray)]

for i, (wl, flux, err, mod, lo, hi, gray) in enumerate(data):
    ax = fig.add_axes(rects[i])
    n = min(len(gray_wl), len(gray))
    gy = np.array(gray[:n]) * SCALE
    sns.scatterplot(x=gray_wl[:n], y=gy, color='#d9d9d9', s=58, linewidth=0,
                    ax=ax, zorder=1)
    ax.errorbar(wl, np.array(flux) * SCALE, yerr=np.array(err) * SCALE, fmt='o',
                color='dimgray', ms=6.5, elinewidth=1.8, capsize=0, zorder=2)
    ax.fill_between(model_wl, np.array(lo) * SCALE, np.array(hi) * SCALE,
                    color='salmon', lw=0, zorder=3)
    sns.lineplot(x=model_wl, y=np.array(mod) * SCALE, color='crimson', lw=2.2,
                 sort=False, estimator=None, ax=ax, zorder=4)
    ax.axhline(0, color='k', ls='--', lw=1.5, zorder=5)

    ax.set_xlim(0.49, 2.94)
    ax.set_ylim(ylims[i][0] * SCALE, ylims[i][1] * SCALE)
    ax.set_xticks([0.5, 1.0, 1.5, 2.0, 2.5])
    ax.set_yticks([0, 0.0005, 0.001, 0.0015, 0.002])
    ax.yaxis.set_major_formatter(FormatStrFormatter('%.4f'))
    ax.xaxis.set_major_formatter(FormatStrFormatter('%.1f'))
    ax.tick_params(direction='out', length=4, width=1, labelsize=12, color='k')
    for sp in ax.spines.values():
        sp.set_color('#333333')
        sp.set_linewidth(1.0)
    ax.set_xlabel('')
    ax.set_ylabel('')

    ty = 0.935 if i < 2 else 0.918
    ey = 0.75 if i < 2 else 0.737
    ax.text(0.567, ty, titles[i], transform=ax.transAxes, color='blue',
            fontsize=14.3, ha='center', va='center', zorder=6)
    ax.text(0.741, ey, teff_labels[i], transform=ax.transAxes, color='crimson',
            fontsize=14.3, ha='center', va='center', zorder=6)

fig.text(0.016, 0.559, r'Flare-only flux [10$^{-13}$ erg s$^{-1}$ cm$^{-2}$ Å$^{-1}$]',
         rotation=90, ha='center', va='center', fontsize=15)
fig.text(0.492, 0.029, r'Wavelength [$\mu$m]', ha='center', va='center', fontsize=15)

fig.savefig('out.png', dpi=100)
